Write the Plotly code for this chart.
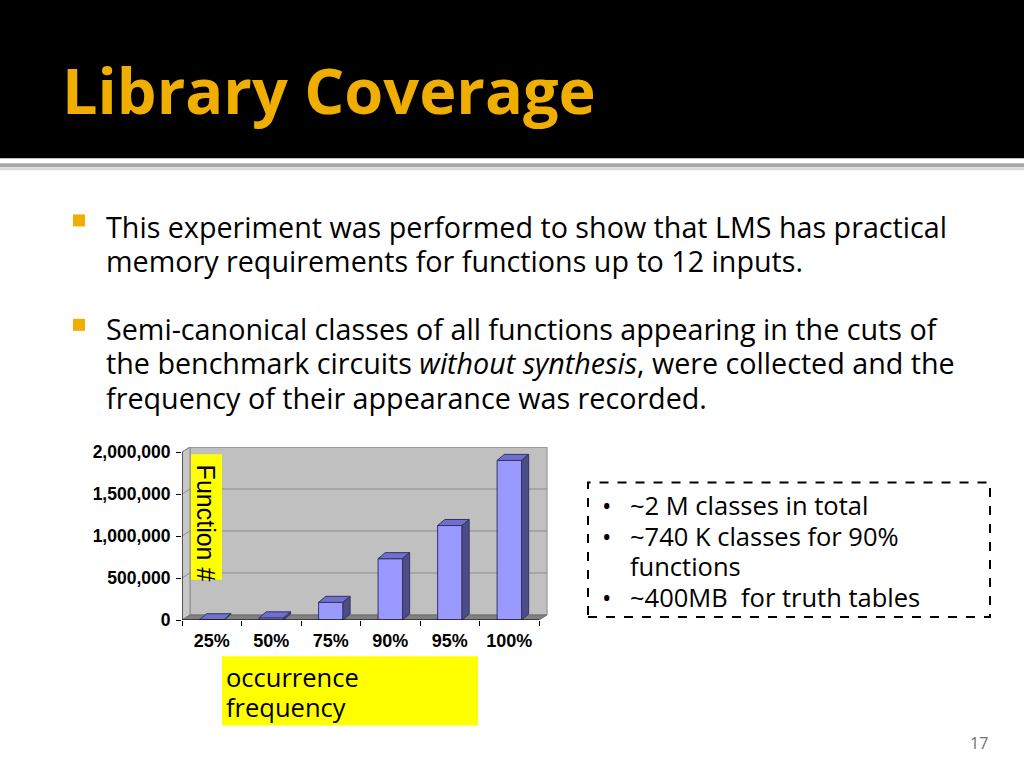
import plotly.graph_objects as go

# chart data
categories = ["25%", "50%", "75%", "90%", "95%", "100%"]
functions = [3000, 25000, 210000, 730000, 1125000, 1900000]
y_ticks = [0, 500000, 1000000, 1500000, 2000000]

bullets_main = [
    ["This experiment was performed to show that LMS has practical",
     "memory requirements for functions up to 12 inputs."],
    ["Semi-canonical classes of all functions appearing in the cuts of",
     "the benchmark circuits <i>without synthesis</i>, were collected and the",
     "frequency of their appearance was recorded."],
]
box_lines = [("•", "~2 M classes in total"),
             ("•", "~740 K classes for 90%"),
             ("", "functions"),
             ("•", "~400MB  for truth tables")]

W, H = 1024, 786
# the page gets squeezed a bit vertically when photographed, so positions are
# given in screen pixels and mapped back here
def px(x): return x / W
def py(y): return 1 - (y / 0.977 + 0.53) / H

GOLD = "#F0AF00"
BODY = "Open Sans"

# 3d look
bw = 0.205          # half bar width
bdx, bdy = 0.12, 72000     # bar depth
wdx, wdy = 0.134, 60000    # wall depth
xs = list(range(len(categories)))

fig = go.Figure()

# front faces
fig.add_trace(go.Bar(x=xs, y=functions, width=2 * bw, marker_color="#9999FF",
                     marker_line=dict(color="#333366", width=1)))

# top and side faces from the values
tx, ty, sx, sy = [], [], [], []
for k, v in zip(xs, functions):
    tx += [k - bw, k + bw, k + bw + bdx, k - bw + bdx, k - bw, None]
    ty += [v, v, v + bdy, v + bdy, v, None]
    sx += [k + bw, k + bw + bdx, k + bw + bdx, k + bw, k + bw, None]
    sy += [0, bdy, v + bdy, v, 0, None]
fig.add_trace(go.Scatter(x=tx, y=ty, fill="toself", fillcolor="#7070CC", mode="lines",
                         line=dict(color="#333366", width=1), hoverinfo="skip"))
fig.add_trace(go.Scatter(x=sx, y=sy, fill="toself", fillcolor="#4D4D85", mode="lines",
                         line=dict(color="#333366", width=1), hoverinfo="skip"))

x0, x1 = -0.5, len(categories) - 0.5
top = y_ticks[-1] + wdy
shapes = []
# back wall, left wall, floor
shapes.append(dict(type="rect", xref="x", yref="y", x0=x0 + wdx, x1=x1 + wdx, y0=wdy, y1=top,
                   fillcolor="#C0C0C0", line=dict(color="#8c8c8c", width=1), layer="below"))
shapes.append(dict(type="path", xref="x", yref="y", layer="below",
                   path=f"M{x0},0 L{x0 + wdx},{wdy} L{x0 + wdx},{top} L{x0},{y_ticks[-1]} Z",
                   fillcolor="#C8C8C8", line=dict(color="#8c8c8c", width=1)))
shapes.append(dict(type="path", xref="x", yref="y", layer="below",
                   path=f"M{x0},0 L{x1},0 L{x1 + wdx},{wdy} L{x0 + wdx},{wdy} Z",
                   fillcolor="#808080", line=dict(color="#707070", width=1)))
for t in y_ticks[1:]:
    shapes.append(dict(type="path", xref="x", yref="y", layer="below",
                       path=f"M{x0},{t} L{x0 + wdx},{t + wdy} L{x1 + wdx},{t + wdy}",
                       line=dict(color="#8c8c8c", width=1)))
# axis lines
shapes.append(dict(type="line", xref="x", yref="y", x0=x0, x1=x0, y0=0, y1=y_ticks[-1],
                   line=dict(color="black", width=1)))
shapes.append(dict(type="line", xref="x", yref="y", x0=x0, x1=x1, y0=0, y1=0,
                   line=dict(color="black", width=1)))

# slide decoration
shapes.append(dict(type="rect", xref="paper", yref="paper", x0=0, x1=1, y0=py(160), y1=1,
                   fillcolor="black", line_width=0, layer="below"))
shapes.append(dict(type="rect", xref="paper", yref="paper", x0=0, x1=1, y0=py(169), y1=py(165),
                   fillcolor="#A8A8A8", line_width=0, layer="below"))
shapes.append(dict(type="rect", xref="paper", yref="paper", x0=0, x1=1, y0=py(172), y1=py(169),
                   fillcolor="#DADADA", line_width=0, layer="below"))
for yb in [222, 326]:
    shapes.append(dict(type="rect", xref="paper", yref="paper", x0=px(73), x1=px(85),
                       y0=py(yb + 6), y1=py(yb - 6), fillcolor=GOLD, line_width=0))
shapes.append(dict(type="rect", xref="paper", yref="paper", x0=px(222), x1=px(478),
                   y0=py(725), y1=py(656), fillcolor="#FFFF00", line_width=0))
shapes.append(dict(type="rect", xref="paper", yref="paper", x0=px(588), x1=px(990),
                   y0=py(617), y1=py(483), line=dict(color="black", width=2, dash="dash")))
shapes.append(dict(type="rect", xref="paper", yref="paper", x0=px(191), x1=px(222),
                   y0=py(580), y1=py(455), fillcolor="#FFFF00", line_width=0))

ann = []
ann.append(dict(text="<b>Library Coverage</b>", x=px(60), y=py(92), xanchor="left", yanchor="middle",
                font=dict(family=BODY, size=63, color=GOLD)))
line_y = [[228, 262], [330, 364, 398]]
for lines, ys in zip(bullets_main, line_y):
    for t, yy in zip(lines, ys):
        ann.append(dict(text=t, x=px(104), y=py(yy), xanchor="left", yanchor="middle",
                        font=dict(family=BODY, size=28.7, color="black")))
for (b, t), yy in zip(box_lines, [505, 536, 566, 597]):
    if b:
        ann.append(dict(text=b, x=px(600), y=py(yy), xanchor="left", yanchor="middle",
                        font=dict(family=BODY, size=25, color="black")))
    ann.append(dict(text=t, x=px(628), y=py(yy), xanchor="left", yanchor="middle",
                    font=dict(family=BODY, size=25.5, color="black")))
for t, yy in [("occurrence", 677), ("frequency", 707)]:
    ann.append(dict(text=t, x=px(224), y=py(yy), xanchor="left", yanchor="middle",
                    font=dict(family=BODY, size=25.5, color="black")))
ann.append(dict(text="Function #", x=px(206), y=py(523), xanchor="center", yanchor="middle",
                textangle=90,
                font=dict(family="Liberation Sans", size=25, color="black")))
ann.append(dict(text="17", x=px(990), y=py(743), xanchor="right", yanchor="middle",
                font=dict(family=BODY, size=16, color="#707070")))
for a in ann:
    a.update(xref="paper", yref="paper", showarrow=False)

# plot area: 0 at 620px, 2,000,000 at 452.7px on screen
y_zero, y_2m = py(620), py(452.7)
y_top = y_zero + (y_2m - y_zero) * top / y_ticks[-1]

fig.update_layout(
    width=W, height=H, margin=dict(l=0, r=0, t=0, b=0),
    paper_bgcolor="white", plot_bgcolor="white", showlegend=False,
    shapes=shapes, annotations=ann,
    xaxis=dict(domain=[px(182), px(548)], range=[x0, x1 + 0.15],
               tickvals=xs, ticktext=categories, ticks="", showgrid=False, zeroline=False,
               ticklabelstandoff=8,
               tickfont=dict(family="Liberation Sans", size=18, color="black"),
               minor=dict(tickvals=[k + 0.5 for k in [-1] + xs], ticks="outside",
                          ticklen=5, tickcolor="black", showgrid=False)),
    yaxis=dict(domain=[y_zero, y_top], range=[0, top],
               tickvals=y_ticks, tickformat=",", ticks="outside", ticklen=5, tickcolor="black",
               showgrid=False, zeroline=False, ticklabelstandoff=2,
               tickfont=dict(family="Liberation Sans", size=17.5, color="black")),
)
fig.update_xaxes(tickfont_weight="bold")
fig.update_yaxes(tickfont_weight="bold")

# pin the figure to the top-left corner of the page
pin = ("document.body.style.margin='0';"
       "var d=document.getElementById('{plot_id}');"
       "d.style.position='fixed';d.style.top='-8px';d.style.left='0px';")
fig.write_html("out.html", config={"displayModeBar": False}, post_script=pin)
